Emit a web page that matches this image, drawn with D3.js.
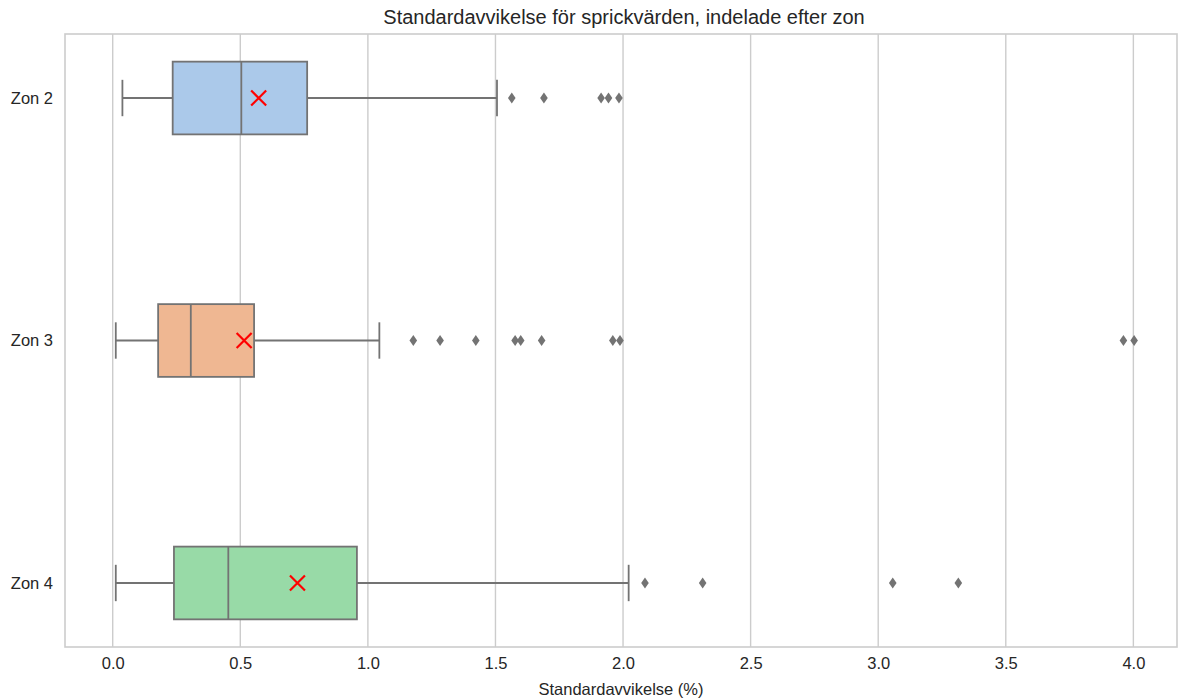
<!DOCTYPE html>
<html>
<head>
<meta charset="utf-8">
<script src="https://cdn.jsdelivr.net/npm/d3@7"></script>
<style>
  body { margin: 0; background: #fff; }
  svg text { font-family: "Liberation Sans", Arial, sans-serif; fill: #262626; }
</style>
</head>
<body>
<svg id="chart"></svg>
<script>
const zones = ['Zon 2', 'Zon 3', 'Zon 4'];
const whiskerLow = [0.038, 0.012, 0.012];
const q1 = [0.235, 0.178, 0.240];
const median = [0.504, 0.306, 0.453];
const q3 = [0.762, 0.554, 0.957];
const whiskerHigh = [1.506, 1.045, 2.022];
const means = [0.572, 0.515, 0.724];
const outliers = [
  [1.564, 1.690, 1.914, 1.943, 1.984],
  [1.178, 1.283, 1.423, 1.577, 1.599, 1.681, 1.960, 1.988, 3.961, 4.003],
  [2.086, 2.312, 3.057, 3.314]
];
const xTicks = [0, 0.5, 1, 1.5, 2, 2.5, 3, 3.5, 4];
const colors = ['#abc9ea', '#efb792', '#98daa7'];

const width = 1178, height = 699;
const margin = { left: 65, right: 1, top: 34, bottom: 52 };
const lineColor = '#737373';

const svg = d3.select('#chart').attr('width', width).attr('height', height);

const x = d3.scaleLinear()
  .domain([-0.187, 4.171])
  .range([margin.left, width - margin.right]);

const y = d3.scalePoint()
  .domain(zones)
  .range([margin.top, height - margin.bottom])
  .padding(0.264);

const boxH = y.step() * 0.3;

// grid
svg.append('g')
  .selectAll('line')
  .data(xTicks)
  .join('line')
  .attr('x1', d => x(d))
  .attr('x2', d => x(d))
  .attr('y1', margin.top)
  .attr('y2', height - margin.bottom)
  .attr('stroke', '#cccccc')
  .attr('stroke-width', 1.4);

// spines
svg.append('rect')
  .attr('x', margin.left)
  .attr('y', margin.top)
  .attr('width', width - margin.right - margin.left)
  .attr('height', height - margin.bottom - margin.top)
  .attr('fill', 'none')
  .attr('stroke', '#cccccc')
  .attr('stroke-width', 1.6);

// x axis
const xAxis = svg.append('g')
  .attr('transform', 'translate(0,' + (height - margin.bottom) + ')')
  .call(d3.axisBottom(x).tickValues(xTicks).tickFormat(d3.format('.1f')).tickSize(0).tickPadding(10));
xAxis.select('.domain').remove();
xAxis.selectAll('text').attr('font-size', '16.5px').attr('fill', '#262626')
  .attr('dy', '0.71em');

// y axis
const yAxis = svg.append('g')
  .attr('transform', 'translate(' + margin.left + ',0)')
  .call(d3.axisLeft(y).tickSize(0).tickPadding(12));
yAxis.select('.domain').remove();
yAxis.selectAll('text').attr('font-size', '16.5px').attr('fill', '#262626');

const boxes = svg.append('g')
  .selectAll('g')
  .data(zones)
  .join('g')
  .attr('transform', d => 'translate(0,' + y(d) + ')');

// whiskers
boxes.append('line')
  .attr('x1', (d, i) => x(whiskerLow[i]))
  .attr('x2', (d, i) => x(q1[i]))
  .attr('stroke', lineColor).attr('stroke-width', 1.8);
boxes.append('line')
  .attr('x1', (d, i) => x(q3[i]))
  .attr('x2', (d, i) => x(whiskerHigh[i]))
  .attr('stroke', lineColor).attr('stroke-width', 1.8);
// caps
[whiskerLow, whiskerHigh].forEach(arr => {
  boxes.append('line')
    .attr('x1', (d, i) => x(arr[i]))
    .attr('x2', (d, i) => x(arr[i]))
    .attr('y1', -boxH / 4)
    .attr('y2', boxH / 4)
    .attr('stroke', lineColor).attr('stroke-width', 1.8);
});

// box
boxes.append('rect')
  .attr('x', (d, i) => x(q1[i]))
  .attr('width', (d, i) => x(q3[i]) - x(q1[i]))
  .attr('y', -boxH / 2)
  .attr('height', boxH)
  .attr('fill', (d, i) => colors[i])
  .attr('stroke', lineColor)
  .attr('stroke-width', 1.8);

// median
boxes.append('line')
  .attr('x1', (d, i) => x(median[i]))
  .attr('x2', (d, i) => x(median[i]))
  .attr('y1', -boxH / 2)
  .attr('y2', boxH / 2)
  .attr('stroke', lineColor).attr('stroke-width', 1.8);

// outliers
const diamond = 'M0,-5.5L3.8,0L0,5.5L-3.8,0Z';
boxes.each(function (d, i) {
  d3.select(this).selectAll('.flier')
    .data(outliers[i])
    .join('path')
    .classed('flier', true)
    .attr('d', diamond)
    .attr('transform', v => 'translate(' + x(v) + ',0)')
    .attr('fill', lineColor);
});

// mean marker
const s = 7.5;
boxes.append('path')
  .attr('d', 'M' + -s + ',' + -s + 'L' + s + ',' + s + 'M' + -s + ',' + s + 'L' + s + ',' + -s)
  .attr('transform', (d, i) => 'translate(' + x(means[i]) + ',0)')
  .attr('stroke', '#ff0000')
  .attr('stroke-width', 2.2)
  .attr('fill', 'none');

// title & label
svg.append('text')
  .attr('x', (margin.left + width - margin.right) / 2 + 3)
  .attr('y', 24)
  .attr('text-anchor', 'middle')
  .attr('font-size', '20px')
  .text('Standardavvikelse för sprickvärden, indelade efter zon');

svg.append('text')
  .attr('x', (margin.left + width - margin.right) / 2)
  .attr('y', 695)
  .attr('text-anchor', 'middle')
  .attr('font-size', '16.5px')
  .text('Standardavvikelse (%)');
</script>
</body>
</html>
